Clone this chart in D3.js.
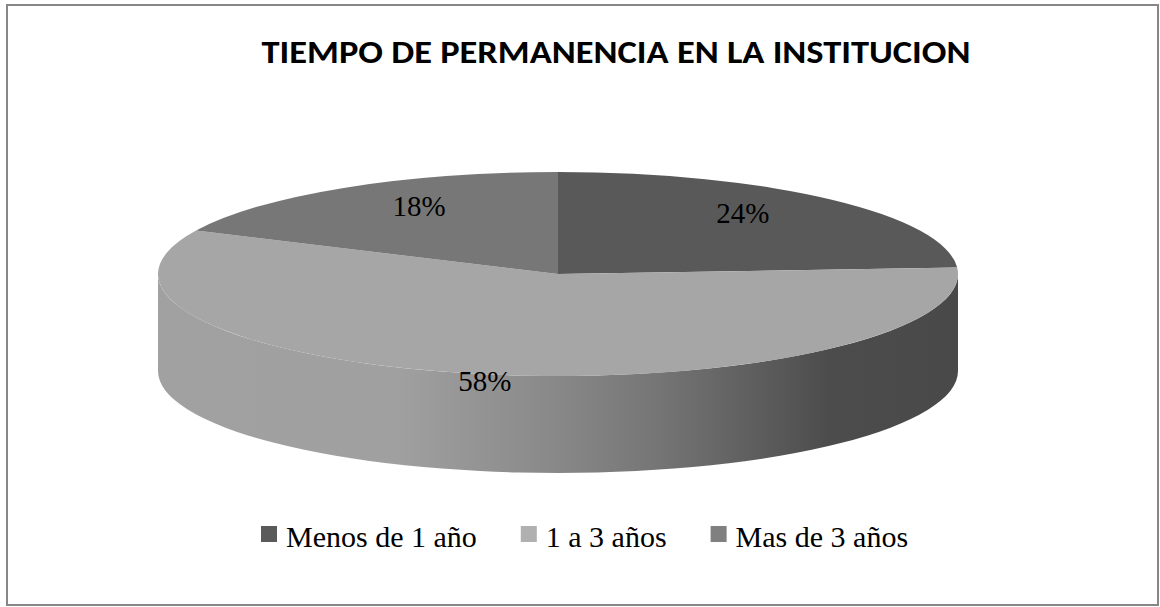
<!DOCTYPE html>
<html>
<head>
<meta charset="utf-8">
<script src="https://cdn.jsdelivr.net/npm/d3@7"></script>
<style>
  body { margin: 0; background: #fff; }
  svg { display: block; }
</style>
</head>
<body>
<div id="chart"></div>
<script>
// datos del grafico
var categorias = ['Menos de 1 año', '1 a 3 años', 'Mas de 3 años'];
var porcentajes = [24, 58, 18];
var etiquetas = ['24%', '58%', '18%'];
var titulo = 'TIEMPO DE PERMANENCIA EN LA INSTITUCION';

// colores de cada porcion (cara superior) y de la leyenda
var colores = ['#595959', '#a6a6a6', '#777777'];
var coloresLeyenda = ['#5a5a5a', '#b0b0b0', '#808080'];

var W = 1160, H = 607;
var cx = 558, cy = 274, rx = 400, ry = 102, depth = 97;

// donde cae cada etiqueta (fraccion del radio en x / en y)
var labelFx = [0.675, 0.976, 0.648];
var labelFy = [0.82, 1.07, 0.79];

var svg = d3.select('#chart').append('svg')
    .attr('width', W)
    .attr('height', H);

// marco
svg.append('rect')
    .attr('x', 7).attr('y', 5)
    .attr('width', 1151).attr('height', 600)
    .attr('fill', '#fff')
    .attr('stroke', '#878787')
    .attr('stroke-width', 2);

// titulo
var t = svg.append('text')
    .attr('x', 616).attr('y', 63)
    .attr('text-anchor', 'middle')
    .attr('font-family', "Carlito, Calibri, 'Open Sans', sans-serif")
    .attr('font-weight', 'bold')
    .attr('font-size', 33)
    .attr('fill', '#000')
    .text(titulo);
t.attr('textLength', 709).attr('lengthAdjust', 'spacingAndGlyphs');

var pie = d3.pie().sort(null).value(d => d);
var arcs = pie(porcentajes);

// punto sobre la elipse (angulo d3: 0 arriba, sentido horario)
function pt(a, dy) {
    return [cx + rx * Math.sin(a), cy - ry * Math.cos(a) + (dy || 0)];
}

var defs = svg.append('defs');

// gradiente de la pared lateral para cada porcion
arcs.forEach((d, i) => {
    var base = d3.color(colores[i]);
    var g = defs.append('linearGradient')
        .attr('id', 'side' + i)
        .attr('gradientUnits', 'userSpaceOnUse')
        .attr('x1', cx - rx).attr('x2', cx + rx)
        .attr('y1', 0).attr('y2', 0);
    var stops = [[0, 0.08], [0.3, 0.1], [0.5, 0.55], [0.62, 0.95], [0.72, 1.45], [0.84, 2.2], [1, 2.3]];
    stops.forEach(s => {
        g.append('stop')
            .attr('offset', s[0])
            .attr('stop-color', base.darker(s[1]).formatHex());
    });
});

// paredes laterales (solo lo que mira al frente: de pi/2 a 3pi/2)
var sides = svg.append('g');
arcs.forEach((d, i) => {
    var s = Math.max(d.startAngle, Math.PI / 2);
    var e = Math.min(d.endAngle, 3 * Math.PI / 2);
    if (e <= s) return;
    var p0 = pt(s), p1 = pt(e), q1 = pt(e, depth), q0 = pt(s, depth);
    var path = 'M' + p0 + ' A' + rx + ',' + ry + ' 0 0 1 ' + p1 +
        ' L' + q1 + ' A' + rx + ',' + ry + ' 0 0 0 ' + q0 + ' Z';
    sides.append('path')
        .attr('d', path)
        .attr('fill', 'url(#side' + i + ')');
});

// caras superiores
svg.append('g').selectAll('path')
    .data(arcs)
    .enter().append('path')
        .attr('d', d => {
            var p0 = pt(d.startAngle), p1 = pt(d.endAngle);
            var large = (d.endAngle - d.startAngle) > Math.PI ? 1 : 0;
            return 'M' + cx + ',' + cy + ' L' + p0 + ' A' + rx + ',' + ry + ' 0 ' + large + ' 1 ' + p1 + ' Z';
        })
        .attr('fill', (d, i) => colores[i]);

// etiquetas de porcentaje
svg.append('g').selectAll('text')
    .data(arcs)
    .enter().append('text')
        .attr('x', (d, i) => {
            var a = (d.startAngle + d.endAngle) / 2;
            return cx + labelFx[i] * rx * Math.sin(a);
        })
        .attr('y', (d, i) => {
            var a = (d.startAngle + d.endAngle) / 2;
            return cy - labelFy[i] * ry * Math.cos(a);
        })
        .attr('dy', '0.35em')
        .attr('text-anchor', 'middle')
        .attr('font-family', "'Liberation Serif', 'Times New Roman', serif")
        .attr('font-size', 29)
        .attr('fill', '#000')
        .text((d, i) => etiquetas[i]);

// leyenda
var legend = svg.append('g');
var lx = 261, ly = 547, sq = 16;
categorias.forEach((c, i) => {
    legend.append('rect')
        .attr('x', lx).attr('y', ly - 21)
        .attr('width', sq).attr('height', sq)
        .attr('fill', coloresLeyenda[i]);
    var txt = legend.append('text')
        .attr('x', lx + sq + 9).attr('y', ly)
        .attr('font-family', "'Liberation Serif', 'Times New Roman', serif")
        .attr('font-size', 30)
        .attr('fill', '#000')
        .text(c);
    lx = lx + sq + 9 + txt.node().getComputedTextLength() + 44;
});
</script>
</body>
</html>
